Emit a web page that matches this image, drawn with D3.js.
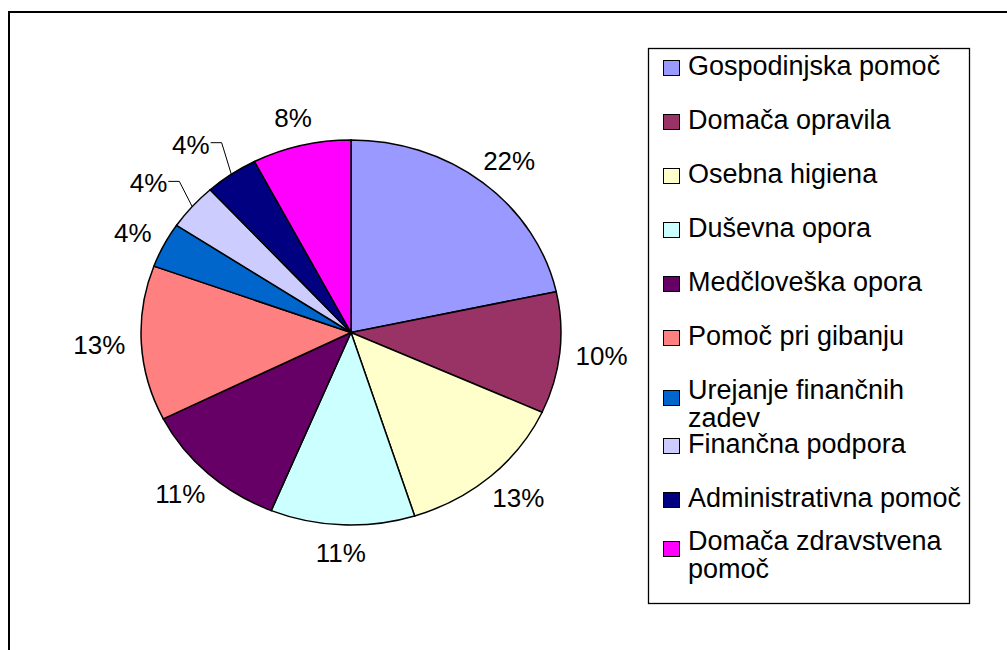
<!DOCTYPE html>
<html>
<head>
<meta charset="utf-8">
<script src="https://cdn.jsdelivr.net/npm/d3@7"></script>
<style>
  html, body { margin: 0; padding: 0; background: #fff; }
  svg { display: block; }
  text { font-family: "Liberation Sans", Arial, sans-serif; fill: #000; }
</style>
</head>
<body>
<script>
const categories = [
    'Gospodinjska pomoč',
    'Domača opravila',
    'Osebna higiena',
    'Duševna opora',
    'Medčloveška opora',
    'Pomoč pri gibanju',
    'Urejanje finančnih zadev',
    'Finančna podpora',
    'Administrativna pomoč',
    'Domača zdravstvena pomoč'
];
const values = [21.6, 10.2, 13.3, 11.1, 11.4, 13.0, 3.8, 3.9, 4.1, 7.6];
const colors = ['#9999FF', '#993366', '#FFFFCC', '#CCFFFF', '#660066',
                '#FF8080', '#0066CC', '#CCCCFF', '#000080', '#FF00FF'];
// slices whose labels sit out on a leader line
const leaderLabels = [7, 8];

const width = 1007, height = 650;
const cx = 351, cy = 332.5, rx = 210, ry = 192.5;

const svg = d3.select('body').append('svg')
    .attr('width', width)
    .attr('height', height);

// page frame
svg.append('path')
    .attr('d', `M9,${height} L9,12 L${width},12`)
    .attr('fill', 'none')
    .attr('stroke', '#000')
    .attr('stroke-width', 2);

const pie = d3.pie().sort(null).value(d => d);
const arcs = pie(values);
const arc = d3.arc().innerRadius(0).outerRadius(rx);

const pieG = svg.append('g')
    .attr('transform', `translate(${cx},${cy}) scale(1,${ry / rx})`);

pieG.selectAll('path')
    .data(arcs)
    .enter()
    .append('path')
    .attr('d', arc)
    .attr('fill', (d, i) => colors[i])
    .attr('stroke', '#000')
    .attr('stroke-width', 1.5)
    .attr('vector-effect', 'non-scaling-stroke');

// labels
const labelG = svg.append('g').attr('transform', `translate(${cx},${cy})`);
const fmt = v => Math.round(v) + '%';
const gapX = 16, offY = 28;

arcs.forEach((d, i) => {
    const a = (d.startAngle + d.endAngle) / 2;
    const s = Math.sin(a), c = Math.cos(a);
    const ex = rx * s, ey = -ry * c;

    if (leaderLabels.includes(i)) {
        const bx = 227 * s, by = -231 * c;
        labelG.append('path')
            .attr('d', `M${ex},${ey} L${bx},${by} L${bx - 11},${by}`)
            .attr('fill', 'none')
            .attr('stroke', '#000')
            .attr('stroke-width', 1);
        labelG.append('text')
            .attr('x', bx - 12)
            .attr('y', by + 2)
            .attr('dy', '0.35em')
            .attr('text-anchor', 'end')
            .attr('font-size', 26)
            .text(fmt(values[i]));
        return;
    }

    const t = labelG.append('text')
        .attr('text-anchor', 'middle')
        .attr('dy', '0.35em')
        .attr('font-size', 26)
        .text(fmt(values[i]));
    const w = t.node().getComputedTextLength();
    t.attr('x', ex + s * (w / 2 + gapX))
     .attr('y', ey - c * offY);
});

// legend
const lx = 648, ly = 48, lw = 321, lh = 555;
const legend = svg.append('g');
legend.append('rect')
    .attr('x', lx + 0.5)
    .attr('y', ly + 0.5)
    .attr('width', lw)
    .attr('height', lh)
    .attr('fill', '#fff')
    .attr('stroke', '#000')
    .attr('stroke-width', 1.3);

const textX = 688, maxW = 275, lineH = 28, rowH = 54, firstBase = 75;

categories.forEach((name, i) => {
    // wrap words into lines
    const probe = legend.append('text').attr('font-size', 27);
    const words = name.split(' ');
    const lines = [];
    let cur = '';
    words.forEach(wd => {
        const test = cur ? cur + ' ' + wd : wd;
        probe.text(test);
        if (probe.node().getComputedTextLength() > maxW && cur) {
            lines.push(cur);
            cur = wd;
        } else {
            cur = test;
        }
    });
    lines.push(cur);
    probe.remove();

    let base = firstBase + rowH * i;
    const lastBase = base + lineH * (lines.length - 1);
    const limit = ly + lh - 25;
    if (lastBase > limit) base -= lastBase - limit;

    const swTop = lines.length > 1 ? base - 9 : base - 15;
    legend.append('rect')
        .attr('x', 663.5)
        .attr('y', swTop + 0.5)
        .attr('width', 16)
        .attr('height', 15)
        .attr('fill', colors[i])
        .attr('stroke', '#000')
        .attr('stroke-width', 1);

    lines.forEach((ln, k) => {
        legend.append('text')
            .attr('x', textX)
            .attr('y', base + k * lineH)
            .attr('font-size', 27)
            .text(ln);
    });
});
</script>
</body>
</html>
